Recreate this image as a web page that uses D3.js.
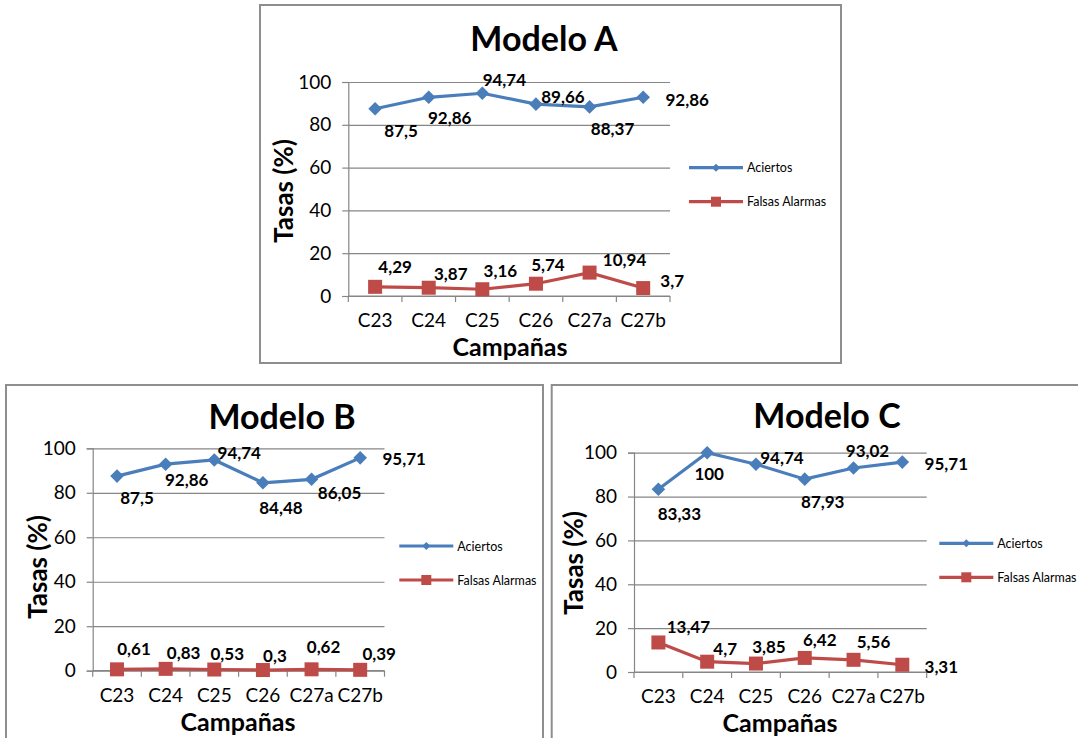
<!DOCTYPE html>
<html lang="es">

<head>
  <meta charset="UTF-8">
  <title>Modelos A, B, C</title>
  <script src="https://cdn.jsdelivr.net/npm/d3@7"></script>
  <style type="text/css">
    html,
    body {
      margin: 0;
      background: #fff;
    }

    svg {
      display: block;
      font-family: Lato, "Open Sans", sans-serif;
    }

    .grid line {
      stroke: #868686;
      stroke-width: 1.2;
    }

    .grid path {
      display: none;
    }
  </style>
</head>

<body>
  <script>
    // data
    var campanas = ['C23', 'C24', 'C25', 'C26', 'C27a', 'C27b'];
    var yTicks = [0, 20, 40, 60, 80, 100];
    var seriesNames = ['Aciertos', 'Falsas Alarmas'];

    var aciertosA = [87.5, 92.86, 94.74, 89.66, 88.37, 92.86];
    var falsasA = [4.29, 3.87, 3.16, 5.74, 10.94, 3.7];
    var aciertosB = [87.5, 92.86, 94.74, 84.48, 86.05, 95.71];
    var falsasB = [0.61, 0.83, 0.53, 0.3, 0.62, 0.39];
    var aciertosC = [83.33, 100, 94.74, 87.93, 93.02, 95.71];
    var falsasC = [13.47, 4.7, 3.85, 6.42, 5.56, 3.31];

    // where excel put each data label, relative to its marker
    var offA1 = [[26, 22], [21, 20], [22, -14], [27, -8], [23, 22], [44, 2]];
    var offA2 = [[20, -20], [22, -14], [18, -19], [12, -19], [35, -13], [29, -8]];
    var offB1 = [[20, 21], [21, 15], [25, -7], [18, 25], [28, 13], [44, 1]];
    var offB2 = [[17, -21], [18, -16], [13, -16], [12, -15], [12, -23], [19, -16]];
    var offC1 = [[21, 24], [2, 21], [26, -7], [18, 22], [14, -18], [44, 1]];
    var offC2 = [[30, -16], [18, -13], [13, -17], [15, -18], [20, -18], [39, 2]];

    var blue = '#4a7ebb';
    var red = '#be4b48';

    var panels = [
      {
        title: 'Modelo A', a: aciertosA, f: falsasA, offA: offA1, offF: offA2,
        frame: [260, 5, 841, 363], plot: [348.3, 82, 670, 296],
        titleX: 544, titleY: 37, yTitleX: 283, yTitleY: 191, xTitleX: 510,
        legX: 689, legY: 167.7
      },
      {
        title: 'Modelo B', a: aciertosB, f: falsasB, offA: offB1, offF: offB2,
        frame: [6, 385, 543, 750], plot: [92.7, 448.3, 384.5, 670.7],
        titleX: 282, titleY: 415, yTitleX: 37, yTitleY: 567, xTitleX: 238,
        legX: 399.3, legY: 546
      },
      {
        title: 'Modelo C', a: aciertosC, f: falsasC, offA: offC1, offF: offC2,
        frame: [551.7, 385, 1090, 750], plot: [634, 452.7, 926.7, 672],
        titleX: 827, titleY: 414, yTitleX: 573, yTitleY: 563, xTitleX: 780,
        legX: 939.3, legY: 543.3
      }
    ];

    var svg = d3.select('body')
      .append('svg')
      .attr('width', 1078)
      .attr('height', 738);

    function fmt(v) {
      return String(v).replace('.', ',');
    }

    function diamond(r) {
      return 'M0,' + (-r) + 'L' + r + ',0L0,' + r + 'L' + (-r) + ',0Z';
    }

    function drawPanel(p) {
      var g = svg.append('g');
      var fr = p.frame;
      g.append('rect')
        .attr('x', fr[0]).attr('y', fr[1])
        .attr('width', fr[2] - fr[0]).attr('height', fr[3] - fr[1])
        .attr('fill', '#fff')
        .attr('stroke', '#8e8e8e')
        .attr('stroke-width', 2);

      var x0 = p.plot[0], y0 = p.plot[1], x1 = p.plot[2], y1 = p.plot[3];
      var x = d3.scaleBand().domain(campanas).range([x0, x1]).padding(0);
      var y = d3.scaleLinear().domain([0, 100]).range([y1, y0]);
      var cx = function (i) { return x(campanas[i]) + x.bandwidth() / 2; };

      // gridlines + y axis labels
      g.append('g')
        .attr('class', 'grid')
        .attr('transform', 'translate(' + x0 + ',0)')
        .call(d3.axisLeft(y).tickValues(yTicks).tickSize(-(x1 - x0)).tickFormat(''));

      var ya = g.append('g')
        .attr('transform', 'translate(' + x0 + ',0)')
        .call(d3.axisLeft(y).tickValues(yTicks).tickSize(6).tickPadding(11));
      ya.select('.domain').attr('stroke', '#868686').attr('stroke-width', 1.2);
      ya.selectAll('line').attr('stroke', '#868686').attr('stroke-width', 1.2);
      ya.selectAll('text').attr('font-size', 19).attr('fill', '#000')
        .attr('font-family', 'Lato, sans-serif');

      // x axis: tick marks at the category edges
      g.append('line')
        .attr('x1', x0).attr('x2', x1).attr('y1', y1).attr('y2', y1)
        .attr('stroke', '#868686').attr('stroke-width', 1.2);
      var edges = campanas.map(function (c) { return x(c); }).concat([x1]);
      g.selectAll('.xtick').data(edges).enter().append('line')
        .attr('x1', function (d) { return d; }).attr('x2', function (d) { return d; })
        .attr('y1', y1).attr('y2', y1 + 6)
        .attr('stroke', '#868686').attr('stroke-width', 1.2);

      var xa = g.append('g')
        .attr('transform', 'translate(0,' + y1 + ')')
        .call(d3.axisBottom(x).tickSize(0).tickPadding(18));
      xa.select('.domain').remove();
      xa.selectAll('text').attr('font-size', 19).attr('fill', '#000')
        .attr('font-family', 'Lato, sans-serif');

      // titles
      g.append('text')
        .attr('x', p.titleX).attr('y', p.titleY)
        .attr('text-anchor', 'middle').attr('dominant-baseline', 'central')
        .attr('font-size', 34).attr('font-weight', 'bold')
        .text(p.title);

      g.append('text')
        .attr('transform', 'translate(' + p.yTitleX + ',' + p.yTitleY + ') rotate(-90)')
        .attr('text-anchor', 'middle').attr('dominant-baseline', 'central')
        .attr('font-size', 26).attr('font-weight', 'bold')
        .text('Tasas (%)');

      g.append('text')
        .attr('x', p.xTitleX).attr('y', y1 + 50)
        .attr('text-anchor', 'middle').attr('dominant-baseline', 'central')
        .attr('font-size', 25).attr('font-weight', 'bold')
        .text('Campañas');

      // lines
      var line = d3.line()
        .x(function (d, i) { return cx(i); })
        .y(function (d) { return y(d); });

      g.append('path').datum(p.a)
        .attr('d', line).attr('fill', 'none')
        .attr('stroke', blue).attr('stroke-width', 3.2);
      g.append('path').datum(p.f)
        .attr('d', line).attr('fill', 'none')
        .attr('stroke', red).attr('stroke-width', 3.2);

      g.selectAll('.dA').data(p.a).enter().append('path')
        .attr('d', diamond(6.8))
        .attr('transform', function (d, i) { return 'translate(' + cx(i) + ',' + y(d) + ')'; })
        .attr('fill', blue);

      g.selectAll('.sF').data(p.f).enter().append('rect')
        .attr('x', function (d, i) { return cx(i) - 7; })
        .attr('y', function (d) { return y(d) - 7; })
        .attr('width', 14).attr('height', 14)
        .attr('fill', red);

      // data labels
      function labels(vals, off) {
        g.selectAll(null).data(vals).enter().append('text')
          .attr('x', function (d, i) { return cx(i) + off[i][0]; })
          .attr('y', function (d, i) { return y(d) + off[i][1]; })
          .attr('text-anchor', 'middle').attr('dominant-baseline', 'central')
          .attr('font-size', 17).attr('font-weight', 'bold')
          .text(fmt);
      }
      labels(p.a, p.offA);
      labels(p.f, p.offF);

      // legend
      var lg = g.append('g').attr('transform', 'translate(' + p.legX + ',' + p.legY + ')');
      seriesNames.forEach(function (name, i) {
        var row = lg.append('g').attr('transform', 'translate(0,' + (i * 34) + ')');
        var col = i === 0 ? blue : red;
        row.append('line')
          .attr('x1', 0).attr('x2', 54).attr('y1', 0).attr('y2', 0)
          .attr('stroke', col).attr('stroke-width', 3.2);
        if (i === 0) {
          row.append('path').attr('d', diamond(4)).attr('transform', 'translate(27,0)').attr('fill', col);
        } else {
          row.append('rect').attr('x', 22).attr('y', -5).attr('width', 10).attr('height', 10).attr('fill', col);
        }
        row.append('text')
          .attr('x', 58).attr('y', 0)
          .attr('dominant-baseline', 'central')
          .attr('font-size', 12.5)
          .text(name);
      });
    }

    panels.forEach(drawPanel);
  </script>
</body>

</html>
